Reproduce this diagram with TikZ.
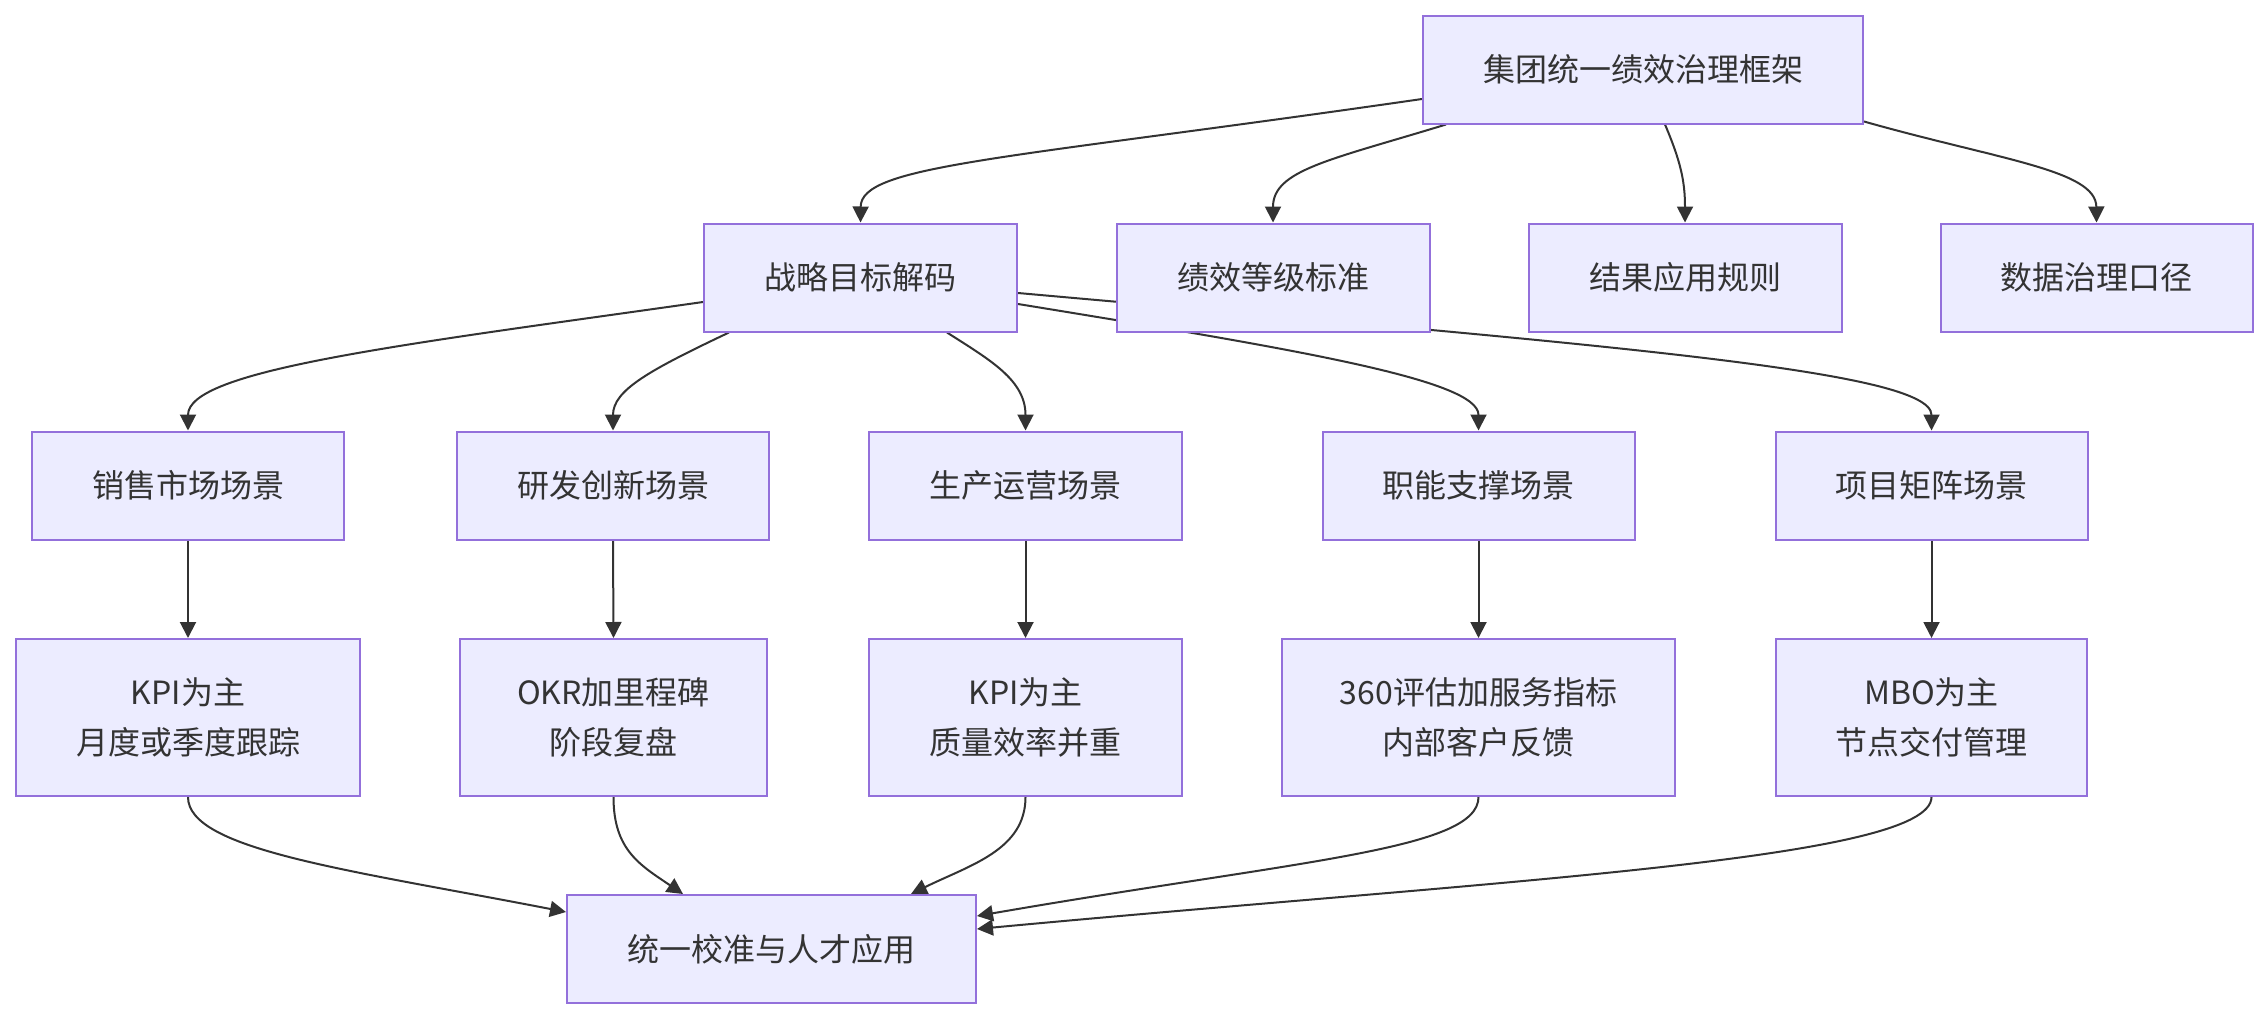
\documentclass[tikz,border=0pt]{standalone}
\usepackage{fontspec}
\setmainfont{Noto Sans CJK SC}
\usetikzlibrary{arrows.meta}
\definecolor{boxfill}{HTML}{ECECFF}
\definecolor{boxline}{HTML}{9370DB}
\definecolor{edgecol}{HTML}{333333}
\definecolor{txt}{HTML}{333333}
\pgfdeclarelayer{edgelayer}
\pgfsetlayers{edgelayer,main}
\tikzset{
  box/.style={draw=boxline, fill=boxfill, line width=2pt, inner sep=0pt,
    minimum height=108pt, align=center, text=txt,
    font=\fontsize{32}{50}\selectfont},
  tallbox/.style={box, minimum height=157pt},
  edge/.style={draw=edgecol, line width=2pt,
    -{Triangle[length=16pt,width=16pt]}}
}
\begin{document}
\begin{tikzpicture}[x=1pt,y=-1pt]
\useasboundingbox (0,0) rectangle (2268,1020);
% nodes
\node[box, minimum width=440pt] (top) at (1643,69.5) {集团统一绩效治理框架};
\node[box, minimum width=313pt] (s1) at (860.5,277.5) {战略目标解码};
\node[box, minimum width=313pt] (s2) at (1273,277.5) {绩效等级标准};
\node[box, minimum width=313pt] (s3) at (1685,277.5) {结果应用规则};
\node[box, minimum width=312pt] (s4) at (2096.5,277.5) {数据治理口径};
\node[box, minimum width=312pt] (r1) at (188,485.5) {销售市场场景};
\node[box, minimum width=312pt] (r2) at (613,485.5) {研发创新场景};
\node[box, minimum width=313pt] (r3) at (1025.5,485.5) {生产运营场景};
\node[box, minimum width=312pt] (r4) at (1478.5,485.5) {职能支撑场景};
\node[box, minimum width=312pt] (r5) at (1931.5,485.5) {项目矩阵场景};
\node[tallbox, minimum width=344pt] (k1) at (188,717.5) {KPI为主\\月度或季度跟踪};
\node[tallbox, minimum width=307pt] (k2) at (613.5,717.5) {OKR加里程碑\\阶段复盘};
\node[tallbox, minimum width=313pt] (k3) at (1025.5,717.5) {KPI为主\\质量效率并重};
\node[tallbox, minimum width=393pt] (k4) at (1478.5,717.5) {360评估加服务指标\\内部客户反馈};
\node[tallbox, minimum width=311pt] (k5) at (1931.5,717.5) {MBO为主\\节点交付管理};
\node[box, minimum width=409pt] (bot) at (771.5,949) {统一校准与人才应用};
% edges
\begin{pgfonlayer}{edgelayer}
\draw[edge] ([yshift=-29.5pt]top.west) .. controls (1000,160) and (861,165) .. (s1.north);
\draw[edge] ([xshift=24pt]top.south west) .. controls (1330,160) and (1273,170) .. (s2.north);
\draw[edge] ([xshift=22pt]top.south) .. controls (1680,160) and (1685,180) .. (s3.north);
\draw[edge] ([yshift=3pt]top.south east) .. controls (2000,160) and (2096,170) .. (s4.north);
\draw[edge] ([yshift=-24.5pt]s1.west) .. controls (400,345) and (188,370) .. (r1.north);
\draw[edge] ([xshift=26pt]s1.south west) .. controls (650,370) and (613,390) .. (r2.north);
\draw[edge] ([xshift=86.5pt]s1.south) .. controls (990,360) and (1025.5,380) .. (r3.north);
\draw[edge] ([yshift=-26.5pt]s1.east) .. controls (1300,350) and (1478.5,380) .. (r4.north);
\draw[edge] ([yshift=-15.5pt]s1.east) .. controls (1600,345) and (1931.5,370) .. (r5.north);
\draw[edge] (r1.south) -- (k1.north);
\draw[edge] (r2.south) -- (k2.north);
\draw[edge] (r3.south) -- (k3.north);
\draw[edge] (r4.south) -- (k4.north);
\draw[edge] (r5.south) -- (k5.north);
\draw[edge] (k1.south) .. controls (188,850) and (350,870) .. ([yshift=-18pt]bot.north west);
\draw[edge] (k2.south) .. controls (613.5,850) and (640,865) .. ([xshift=117pt]bot.north west);
\draw[edge] (k3.south) .. controls (1025.5,850) and (970,865) .. ([xshift=345pt]bot.north west);
\draw[edge] (k4.south) .. controls (1478.5,850) and (1300,860) .. ([yshift=-22pt]bot.north east);
\draw[edge] (k5.south) .. controls (1931.5,860) and (1500,880) .. ([yshift=-35pt]bot.north east);
\end{pgfonlayer}
\end{tikzpicture}
\end{document}
